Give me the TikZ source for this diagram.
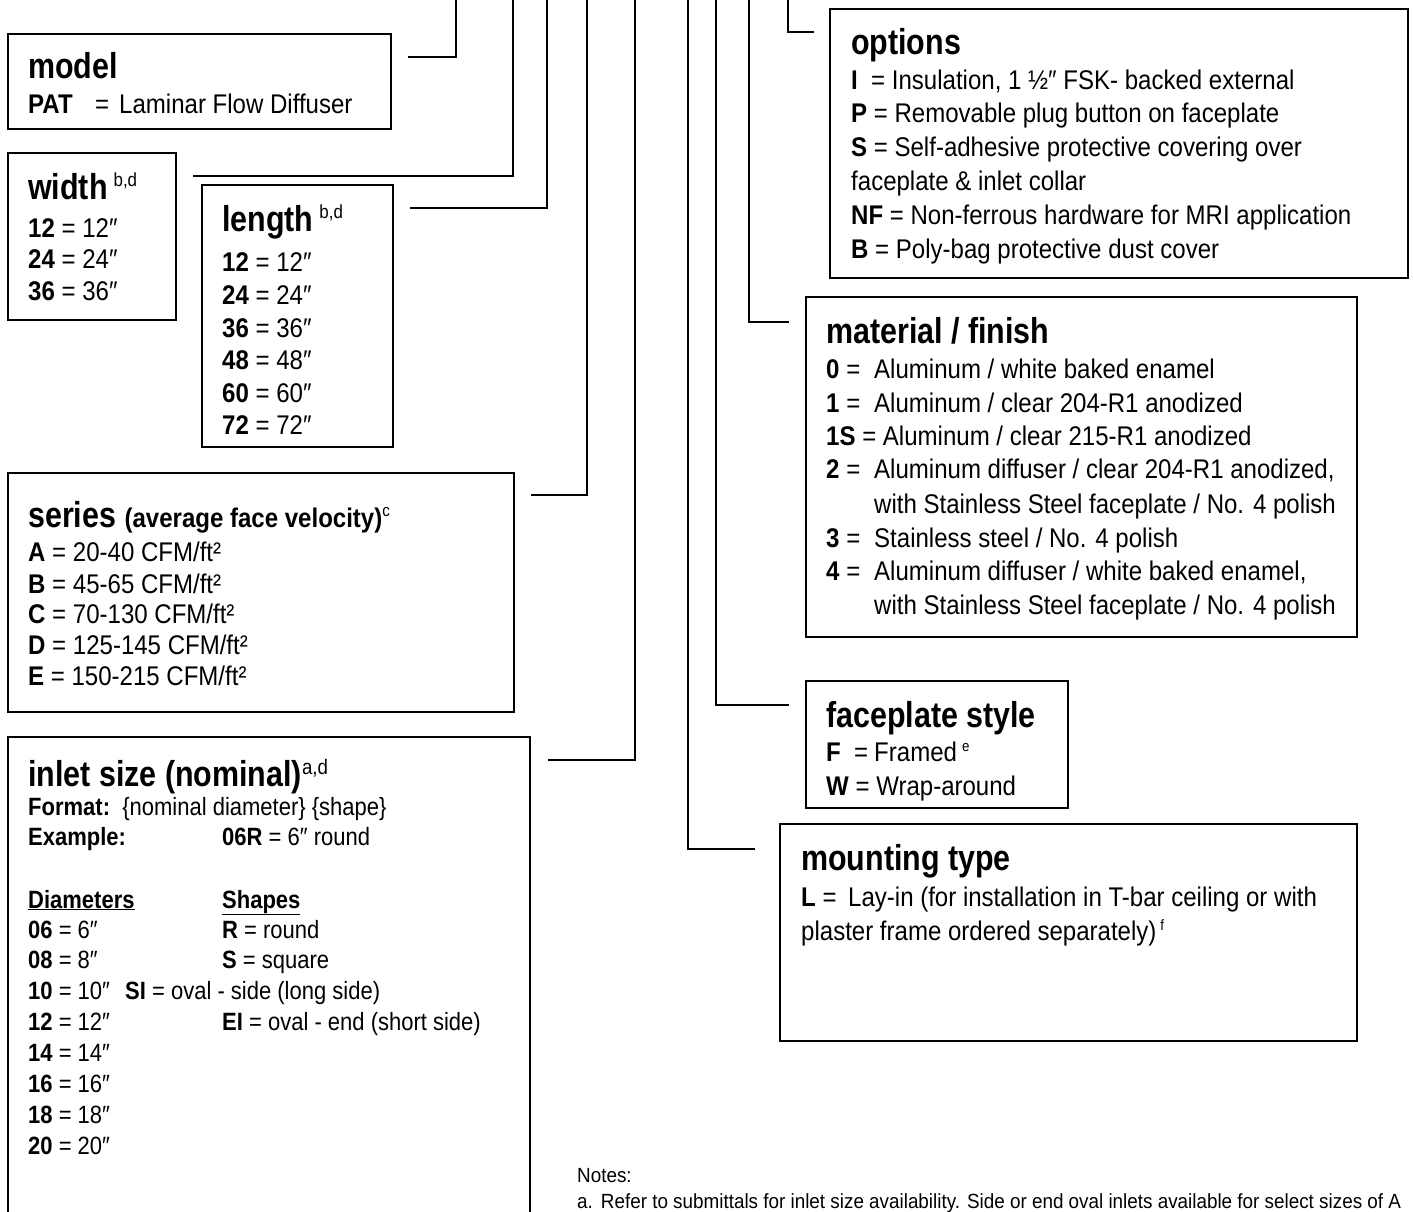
\documentclass[tikz,border=0pt]{standalone}
\usepackage{fontspec}
\setmainfont{Liberation Sans}[FakeStretch=0.89]
\newfontfamily\ttlfont{Liberation Sans}[FakeStretch=0.845]
\newfontfamily\smfont{Liberation Sans}[FakeStretch=0.88]
\newfontfamily\notefont{Liberation Sans}[FakeStretch=0.92]
\newcommand\tsup[3]{\raisebox{#1}{\normalfont\fontsize{#2}{#2}\selectfont #3}}
\begin{document}
\begin{tikzpicture}[x=1pt,y=-1pt,
  boxwh/.style n args={2}{draw,line width=1.7pt,inner sep=0pt,minimum width=#1,minimum height=#2},
  conn/.style={line width=1.7pt},
  ttl/.style={anchor=base west,inner sep=0pt,font=\ttlfont\bfseries\fontsize{36}{40}\selectfont},
  bd/.style={anchor=base west,inner sep=0pt,font=\fontsize{27}{31}\selectfont},
  sm/.style={anchor=base west,inner sep=0pt,font=\smfont\fontsize{25}{29}\selectfont},
  nt/.style={anchor=base west,inner sep=0pt,font=\notefont\fontsize{20.5}{24}\selectfont}]
\useasboundingbox (0,0) rectangle (1413,1212);
\fill[white] (0,0) rectangle (1413,1212);

% ---------- boxes ----------
\node[boxwh={383pt}{95pt}]  (model)  at (199.5,81.5) {};
\node[boxwh={168pt}{167pt}] (width)  at (92,236.5) {};
\node[boxwh={191pt}{262pt}] (length) at (297.5,316) {};
\node[boxwh={506pt}{239pt}] (series) at (261,592.5) {};
\node[boxwh={522pt}{503pt}] (inlet)  at (269,988.5) {};
\node[boxwh={578pt}{269pt}] (options) at (1119,143.5) {};
\node[boxwh={551pt}{340pt}] (material) at (1081.5,467) {};
\node[boxwh={262pt}{127pt}] (faceplate) at (937,744.5) {};
\node[boxwh={577pt}{217pt}] (mounting) at (1068.5,932.5) {};

% ---------- connectors ----------
\coordinate (mA) at (408,57);  \coordinate (mB) at (456,0);
\coordinate (wA) at (193,176); \coordinate (wB) at (513,0);
\coordinate (lA) at (410,208); \coordinate (lB) at (547,0);
\coordinate (sA) at (531,495); \coordinate (sB) at (587,0);
\coordinate (iA) at (548,760); \coordinate (iB) at (635,0);
\coordinate (tA) at (755,849); \coordinate (tB) at (688,0);
\coordinate (fA) at (789,705); \coordinate (fB) at (716,0);
\coordinate (kA) at (789,322); \coordinate (kB) at (749,0);
\coordinate (oA) at (814,32);  \coordinate (oB) at (788,0);
\draw[conn] (mA) -| (mB);
\draw[conn] (wA) -| (wB);
\draw[conn] (lA) -| (lB);
\draw[conn] (sA) -| (sB);
\draw[conn] (iA) -| (iB);
\draw[conn] (tA) -| (tB);
\draw[conn] (fA) -| (fB);
\draw[conn] (kA) -| (kB);
\draw[conn] (oA) -| (oB);

% ---------- model ----------
\node[ttl] (modelT) at (28,79) {model};
\node[bd] (modelK) at (28,114) {\textbf{PAT}};
\node[bd] (modelV) at (95,114) {=\hspace{10pt}Laminar Flow Diffuser};

% ---------- width ----------
\node[ttl] (widthT) at (28,199) {width\hspace{6pt}\tsup{13pt}{19}{b,d}};
\node[bd] (w1) at (28,237) {\textbf{12} = 12″};
\node[bd] (w2) at (28,268) {\textbf{24} = 24″};
\node[bd] (w3) at (28,300) {\textbf{36} = 36″};

% ---------- length ----------
\node[ttl] (lengthT) at (222,231) {length\hspace{6pt}\tsup{13pt}{19}{b,d}};
\node[bd] (l1) at (222,271) {\textbf{12} = 12″};
\node[bd] (l2) at (222,304) {\textbf{24} = 24″};
\node[bd] (l3) at (222,337) {\textbf{36} = 36″};
\node[bd] (l4) at (222,369) {\textbf{48} = 48″};
\node[bd] (l5) at (222,402) {\textbf{60} = 60″};
\node[bd] (l6) at (222,434) {\textbf{72} = 72″};

% ---------- series ----------
\node[ttl] (seriesT) at (28,527) {series {\normalfont\bfseries\fontsize{27}{30}\selectfont(average face velocity)}\tsup{11pt}{17}{c}};
\node[bd] (s1) at (28,561) {\textbf{A} = 20-40 CFM/ft²};
\node[bd] (s2) at (28,593) {\textbf{B} = 45-65 CFM/ft²};
\node[bd] (s3) at (28,623) {\textbf{C} = 70-130 CFM/ft²};
\node[bd] (s4) at (28,654) {\textbf{D} = 125-145 CFM/ft²};
\node[bd] (s5) at (28,685) {\textbf{E} = 150-215 CFM/ft²};

% ---------- inlet ----------
\node[ttl] (inletT) at (28,786) {inlet size (nominal)\tsup{12pt}{21}{a,d}};
\node[sm] (i1) at (28,815) {\textbf{Format:}\ \ \textbraceleft nominal diameter\textbraceright\ \textbraceleft shape\textbraceright};
\node[sm] (i2) at (28,845) {\textbf{Example:}};
\node[sm] (i3) at (222,845) {\textbf{06R} = 6″ round};
\node[sm] (i4) at (28,908) {\textbf{\underline{Diameters}}};
\node[sm] (i5) at (222,908) {\textbf{\underline{Shapes}}};
\node[sm] (d1) at (28,938) {\textbf{06} = 6″};
\node[sm] (h1) at (222,938) {\textbf{R} = round};
\node[sm] (d2) at (28,968) {\textbf{08} = 8″};
\node[sm] (h2) at (222,968) {\textbf{S} = square};
\node[sm] (d3) at (28,999) {\textbf{10} = 10″};
\node[sm] (h3) at (125,999) {\textbf{SI} = oval - side (long side)};
\node[sm] (d4) at (28,1030) {\textbf{12} = 12″};
\node[sm] (h4) at (222,1030) {\textbf{EI} = oval - end (short side)};
\node[sm] (d5) at (28,1061) {\textbf{14} = 14″};
\node[sm] (d6) at (28,1092) {\textbf{16} = 16″};
\node[sm] (d7) at (28,1123) {\textbf{18} = 18″};
\node[sm] (d8) at (28,1154) {\textbf{20} = 20″};

% ---------- options ----------
\node[ttl] (optT) at (851,55) {options};
\node[bd] (o1) at (851,90) {\textbf{I}\ \ = Insulation, 1 ½″ FSK- backed external};
\node[bd] (o2) at (851,123) {\textbf{P} = Removable plug button on faceplate};
\node[bd] (o3) at (851,157) {\textbf{S} = Self-adhesive protective covering over};
\node[bd] (o4) at (851,190) {faceplate \& inlet collar};
\node[bd] (o5) at (851,224) {\textbf{NF} = Non-ferrous hardware for MRI application};
\node[bd] (o6) at (851,258) {\textbf{B} = Poly-bag protective dust cover};

% ---------- material ----------
\node[ttl] (matT) at (826,343) {material / finish};
\node[bd] (mk0) at (826,378) {\textbf{0} =};
\node[bd] (mv0) at (874,378) {Aluminum / white baked enamel};
\node[bd] (mk1) at (826,412) {\textbf{1} =};
\node[bd] (mv1) at (874,412) {Aluminum / clear 204-R1 anodized};
\node[bd] (mv1s) at (826,445) {\textbf{1S} = Aluminum / clear 215-R1 anodized};
\node[bd] (mk2) at (826,478) {\textbf{2} =};
\node[bd] (mv2) at (874,478) {Aluminum diffuser / clear 204-R1 anodized,};
\node[bd] (mv2b) at (874,513) {with Stainless Steel faceplate / No. 4 polish};
\node[bd] (mk3) at (826,547) {\textbf{3} =};
\node[bd] (mv3) at (874,547) {Stainless steel / No. 4 polish};
\node[bd] (mk4) at (826,580) {\textbf{4} =};
\node[bd] (mv4) at (874,580) {Aluminum diffuser / white baked enamel,};
\node[bd] (mv4b) at (874,614) {with Stainless Steel faceplate / No. 4 polish};

% ---------- faceplate ----------
\node[ttl] (fpT) at (826,727) {faceplate style};
\node[bd] (fk1) at (826,761) {\textbf{F}\ \ =};
\node[bd] (fv1) at (874,761) {Framed\hspace{5pt}\tsup{10pt}{15}{e}};
\node[bd] (fv2) at (826,795) {\textbf{W} = Wrap-around};

% ---------- mounting ----------
\node[ttl] (mtT) at (801,870) {mounting type};
\node[bd] (mtk) at (801,906) {\textbf{L} =};
\node[bd] (mtv) at (848,906) {Lay-in (for installation in T-bar ceiling or with};
\node[bd] (mtv2) at (801,940) {plaster frame ordered separately)\hspace{4pt}\tsup{10pt}{15}{f}};

% ---------- notes ----------
\node[nt] (notes) at (577,1182) {Notes:};
\node[nt] (noteA) at (577,1208) {a.\hspace{8pt}Refer to submittals for inlet size availability. Side or end oval inlets available for select sizes of A};
\end{tikzpicture}
\end{document}
